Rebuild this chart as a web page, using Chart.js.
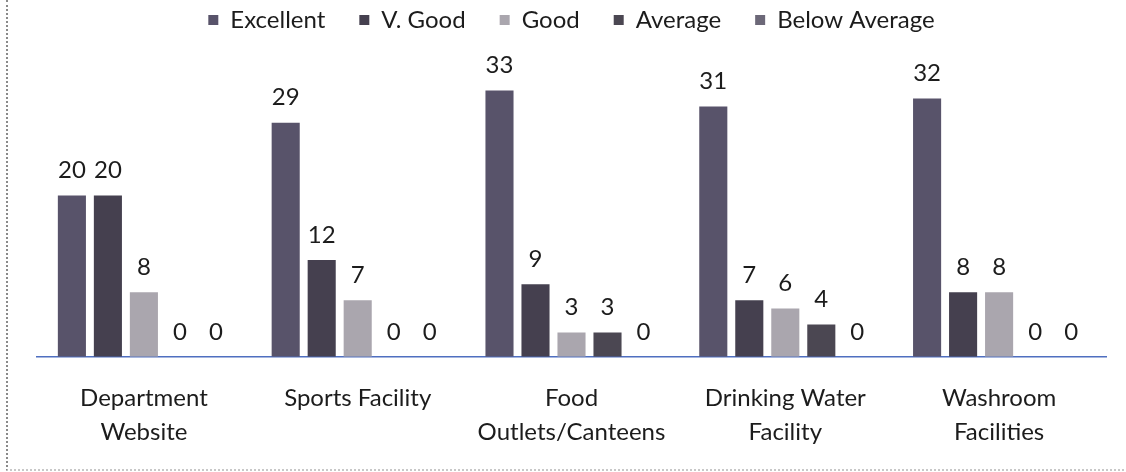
<!DOCTYPE html>
<html>
<head>
<meta charset="utf-8">
<script src="https://cdn.jsdelivr.net/npm/chart.js@4.4.1/dist/chart.umd.min.js"></script>
<style>
  html, body { margin: 0; padding: 0; background: #fff; }
  #wrap { position: relative; width: 1126px; height: 472px; }
  #frame { position: absolute; left: 6px; top: 0; width: 1120px; height: 469px;
           border-left: 2px dotted #8a8a8a; border-bottom: 2px dotted #c8c8c8; pointer-events: none; }
  canvas { display: block; }
</style>
</head>
<body>
<div id="wrap">
  <canvas id="chart" width="1126" height="472"></canvas>
  <div id="frame"></div>
</div>
<script>
// categories (x axis, two-line labels)
const categories = [
    ['Department', 'Website'],
    ['Sports Facility'],
    ['Food', 'Outlets/Canteens'],
    ['Drinking Water', 'Facility'],
    ['Washroom', 'Facilities']
];

// series values
const excellent    = [20, 29, 33, 31, 32];
const veryGood     = [20, 12, 9, 7, 8];
const good         = [8, 7, 3, 6, 8];
const average      = [0, 0, 3, 4, 0];
const belowAverage = [0, 0, 0, 0, 0];

const seriesNames = ['Excellent', 'V. Good', 'Good', 'Average', 'Below Average'];
const seriesColors = ['#58536a', '#45404f', '#aaa6ae', '#4b4752', '#6c6878'];

const FONT = 'Lato, "Open Sans", sans-serif';
const FONT_SIZE = 24;

// value labels above each bar (zeros sit just above the baseline)
const valueLabels = {
    id: 'valueLabels',
    afterDatasetsDraw(chart) {
        const ctx = chart.ctx;
        ctx.save();
        ctx.font = FONT_SIZE + 'px ' + FONT;
        ctx.fillStyle = '#1c1c1c';
        ctx.textAlign = 'center';
        ctx.textBaseline = 'middle';
        chart.data.datasets.forEach((ds, i) => {
            const meta = chart.getDatasetMeta(i);
            meta.data.forEach((bar, j) => {
                ctx.fillText(String(ds.data[j]), bar.x, bar.y - 25);
            });
        });
        ctx.restore();
    }
};

const allSeries = [excellent, veryGood, good, average, belowAverage];

new Chart(document.getElementById('chart'), {
    type: 'bar',
    data: {
        labels: categories,
        datasets: allSeries.map((vals, i) => ({
            label: seriesNames[i],
            data: vals,
            backgroundColor: seriesColors[i],
            borderWidth: 0,
            categoryPercentage: 0.842,
            barPercentage: 0.78
        }))
    },
    options: {
        responsive: false,
        animation: false,
        layout: { padding: { top: -26, left: 37, right: 20, bottom: 7 } },
        plugins: {
            tooltip: { enabled: false },
            legend: {
                position: 'top',
                labels: {
                    boxWidth: 10,
                    boxHeight: 10,
                    padding: 34,
                    color: '#1c1c1c',
                    font: { family: FONT, size: FONT_SIZE }
                }
            }
        },
        scales: {
            x: {
                grid: { display: false },
                border: { display: true, color: '#4f6fc0', width: 1.5 },
                ticks: {
                    color: '#1c1c1c',
                    padding: 16,
                    maxRotation: 0,
                    autoSkip: false,
                    font: { family: FONT, size: FONT_SIZE, lineHeight: 1.42 }
                }
            },
            y: {
                display: false,
                min: 0,
                max: 39
            }
        }
    },
    plugins: [valueLabels]
});
</script>
</body>
</html>
